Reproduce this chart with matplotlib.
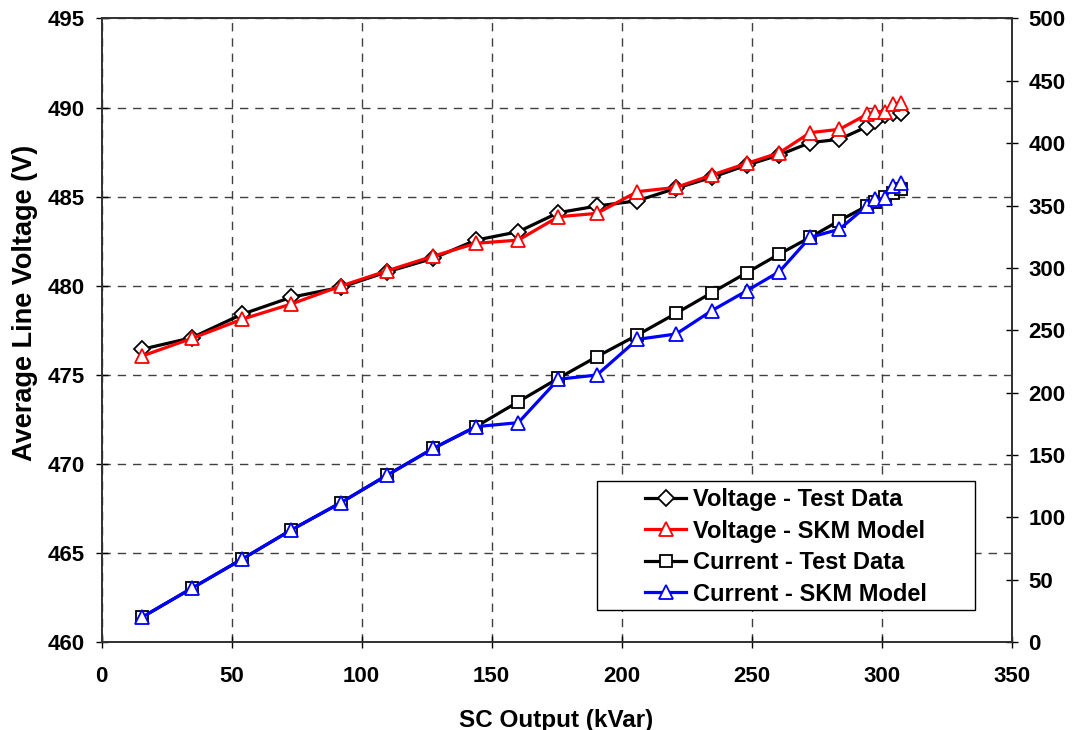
import matplotlib
matplotlib.use("Agg")
import matplotlib.pyplot as plt
from matplotlib.patches import Rectangle

# SC output (kVar) for each test step
sc_output = [15.5, 34.7, 53.9, 72.9, 92.0, 109.9, 127.6, 144.0, 160.3, 175.7, 190.5, 206.1,
             221.0, 234.7, 248.2, 260.7, 272.5, 283.8, 294.3, 297.5, 301.2, 304.3, 307.3]

# average line voltage (V)
volt_test = [476.43, 477.08, 478.39, 479.35, 479.91, 480.78, 481.54, 482.56, 483.03, 484.10,
             484.47, 484.77, 485.47, 486.08, 486.77, 487.34, 488.03, 488.22, 488.92, 489.24,
             489.58, 489.69, 489.68]
volt_skm = [476.05, 477.04, 478.11, 478.97, 479.98, 480.84, 481.66, 482.38, 482.56, 483.87,
            484.06, 485.28, 485.52, 486.21, 486.87, 487.46, 488.59, 488.78, 489.61, 489.77,
            489.77, 490.20, 490.27]

# current (right axis)
curr_test = [19.8, 43.1, 66.3, 89.8, 111.7, 133.9, 155.3, 172.7, 192.7, 211.5, 228.8, 246.2,
             263.6, 280.1, 296.2, 311.1, 324.5, 337.9, 349.6, 353.1, 356.6, 359.8, 363.0]
curr_skm = [19.8, 43.1, 66.3, 89.8, 111.7, 133.9, 155.3, 172.7, 175.9, 210.7, 214.1, 242.7,
            247.0, 265.7, 281.7, 297.0, 324.5, 331.0, 349.6, 355.0, 355.8, 365.7, 367.9]

plt.rcParams["font.family"] = ["Liberation Sans", "DejaVu Sans"]
plt.rcParams["font.weight"] = "bold"

fig = plt.figure(figsize=(10.72, 7.3), dpi=100)
ax = fig.add_axes([0.0947, 0.1205, 0.8489, 0.8542])
ax2 = ax.twinx()

lw = 2.3
ms = 9.5
l1, = ax.plot(sc_output, volt_test, color="black", lw=lw, marker="D", ms=ms - 1.5,
              mfc="white", mec="black", mew=1.3, label="Voltage - Test Data")
l2, = ax.plot(sc_output, volt_skm, color="red", lw=lw, marker="^", ms=ms,
              mfc="white", mec="red", mew=1.3, label="Voltage - SKM Model")
l3, = ax2.plot(sc_output, curr_test, color="black", lw=lw, marker="s", ms=ms - 1,
               mfc="white", mec="black", mew=1.3, label="Current - Test Data")
l4, = ax2.plot(sc_output, curr_skm, color="blue", lw=lw, marker="^", ms=ms,
               mfc="white", mec="blue", mew=1.3, label="Current - SKM Model")

ax.set_xlim(0, 350)
ax.set_ylim(460, 495)
ax2.set_ylim(0, 500)
ax.set_xticks(range(0, 351, 50))
ax.set_yticks(range(460, 496, 5))
ax2.set_yticks(range(0, 501, 50))

ax.grid(True, color="#404040", linestyle=(0, (6, 5)), linewidth=1.0)
ax.set_axisbelow(True)

for a in (ax, ax2):
    a.tick_params(direction="inout", length=8, width=1, labelsize=16)
    for s in a.spines.values():
        s.set_color("#303030")
        s.set_linewidth(1.2)
ax.tick_params(axis="x", pad=13)
ax.tick_params(axis="y", pad=8)
ax2.tick_params(axis="y", pad=8)

ax.set_xlabel("SC Output (kVar)", fontsize=17.5, fontweight="bold", labelpad=16)
ax.set_ylabel("Average Line Voltage (V)", fontsize=19.5, fontweight="bold")
ax.yaxis.set_label_coords(-0.070, 0.544)

# legend frame is wider than its contents, so draw it separately
frame = Rectangle((0.5445, 0.0513), 0.4154, 0.2069, transform=ax2.transAxes,
                  facecolor="white", edgecolor="black", lw=1.0, zorder=4.5)
ax2.add_patch(frame)
leg = ax2.legend(handles=[l1, l2, l3, l4], loc="center", bbox_to_anchor=(0.7522, 0.1524),
                 fontsize=17, frameon=False, handlelength=1.75, handletextpad=0.3,
                 labelspacing=0.36, borderpad=0.2)
leg.set_zorder(5)

fig.savefig("out.png", dpi=100)
